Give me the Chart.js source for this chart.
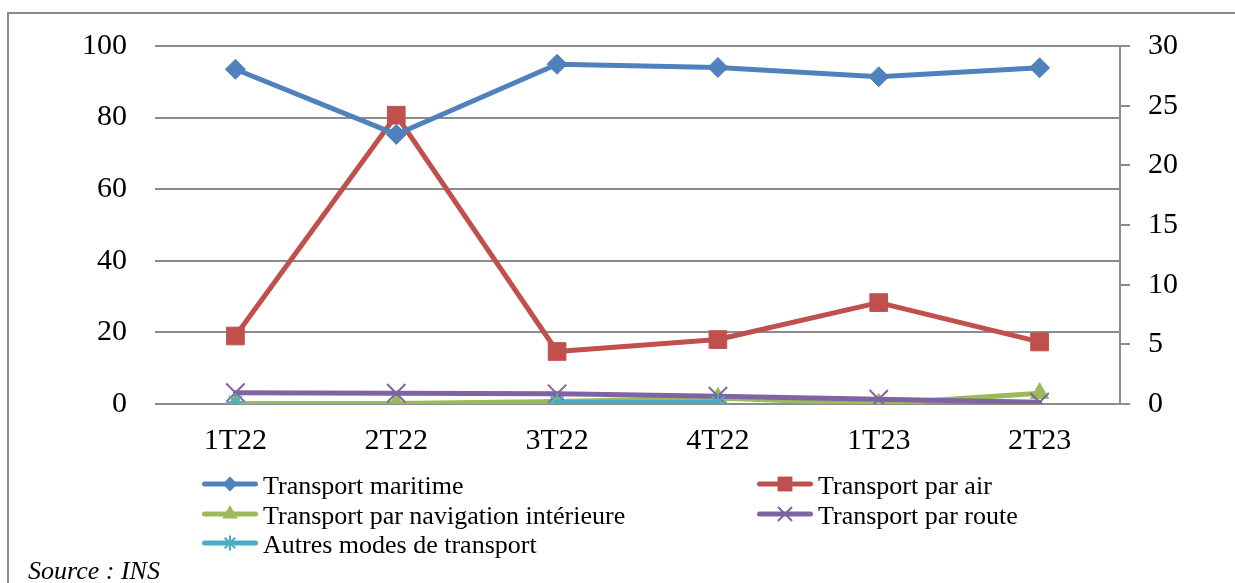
<!DOCTYPE html>
<html>
<head>
<meta charset="utf-8">
<script src="https://cdn.jsdelivr.net/npm/chart.js@4/dist/chart.umd.min.js"></script>
<style>
html,body{margin:0;padding:0;background:#fff;overflow:hidden;}
#wrap{position:relative;width:1235px;height:583px;overflow:hidden;}
#frame{position:absolute;left:7px;top:12px;width:1300px;height:700px;border-left:2px solid #8c8c8c;border-top:2px solid #8c8c8c;}
#c{position:absolute;left:0;top:0;}
</style>
</head>
<body>
<div id="wrap"><div id="frame"></div><canvas id="c" width="1235" height="583"></canvas></div>
<script>
// ---- data ----
const categories = ['1T22', '2T22', '3T22', '4T22', '1T23', '2T23'];
const maritime   = [93.5, 75.3, 94.9, 94.0, 91.4, 93.9];   // left axis
const air        = [5.7, 24.2, 4.4, 5.4, 8.5, 5.2];        // right axis
const navigation = [0.05, 0.05, 0.2, 0.5, 0.0, 0.9];       // right axis
const route      = [0.95, 0.9, 0.85, 0.65, 0.4, 0.15];     // right axis
const autres     = [0.15, null, 0.12, 0.12, null, null];   // right axis
const leftTicks  = { min: 0, max: 100, step: 20 };
const rightTicks = { min: 0, max: 30, step: 5 };
const seriesNames = ['Transport maritime', 'Transport par air', 'Transport par navigation intérieure', 'Transport par route', 'Autres modes de transport'];

const FONT = "'Liberation Serif', 'Times New Roman', serif";
const GRID = '#8c8c8c';

function mk(label, data, color, style, radius, axis, order, pbw, legR) {
  return {
    label, data, yAxisID: axis, order,
    borderColor: color, backgroundColor: color,
    pointBackgroundColor: color, pointBorderColor: color,
    pointStyle: style, pointRadius: radius, pointHoverRadius: radius,
    pointBorderWidth: pbw, borderWidth: 5, tension: 0,
    borderJoinStyle: 'round', borderCapStyle: 'round',
    spanGaps: false, legendRadius: legR
  };
}

function drawMarker(ctx, style, x, y, r) {
  ctx.beginPath();
  const s2 = Math.SQRT1_2;
  switch (style) {
    case 'rectRot':
      ctx.moveTo(x - r, y); ctx.lineTo(x, y - r); ctx.lineTo(x + r, y); ctx.lineTo(x, y + r); ctx.closePath();
      ctx.fill(); break;
    case 'rect':
      ctx.rect(x - r * s2, y - r * s2, 2 * r * s2, 2 * r * s2); ctx.fill(); break;
    case 'triangle':
      ctx.moveTo(x, y - r);
      ctx.lineTo(x + 0.866 * r, y + 0.5 * r);
      ctx.lineTo(x - 0.866 * r, y + 0.5 * r); ctx.closePath(); ctx.fill(); break;
    case 'crossRot':
      ctx.moveTo(x - r * s2, y - r * s2); ctx.lineTo(x + r * s2, y + r * s2);
      ctx.moveTo(x - r * s2, y + r * s2); ctx.lineTo(x + r * s2, y - r * s2);
      ctx.stroke(); break;
    case 'star':
      ctx.moveTo(x, y - r); ctx.lineTo(x, y + r);
      ctx.moveTo(x - r, y); ctx.lineTo(x + r, y);
      ctx.moveTo(x - r * s2, y - r * s2); ctx.lineTo(x + r * s2, y + r * s2);
      ctx.moveTo(x - r * s2, y + r * s2); ctx.lineTo(x + r * s2, y - r * s2);
      ctx.stroke(); break;
  }
}

const legendPlugin = {
  id: 'excelLegend',
  afterDraw(chart) {
    const ctx = chart.ctx;
    const cols = [202, 757];
    const lineY = [484, 514, 543];
    const baseY = [494, 524, 553];
    chart.data.datasets.forEach((ds, i) => {
      const x0 = cols[i % 2], row = Math.floor(i / 2);
      const y = lineY[row];
      ctx.save();
      ctx.strokeStyle = ds.borderColor; ctx.lineWidth = 5; ctx.lineCap = 'round';
      ctx.beginPath(); ctx.moveTo(x0 + 2.5, y); ctx.lineTo(x0 + 53.5, y); ctx.stroke();
      ctx.fillStyle = ds.pointBackgroundColor; ctx.strokeStyle = ds.pointBorderColor;
      ctx.lineWidth = ds.pointBorderWidth; ctx.lineCap = 'butt';
      drawMarker(ctx, ds.pointStyle, x0 + 28, y, ds.legendRadius);
      ctx.fillStyle = '#000';
      ctx.font = '26px ' + FONT;
      ctx.textBaseline = 'alphabetic'; ctx.textAlign = 'left';
      ctx.fillText(ds.label, x0 + 61, baseY[row]);
      ctx.restore();
    });
    ctx.save();
    ctx.fillStyle = '#000';
    ctx.font = 'italic 26px ' + FONT;
    ctx.textBaseline = 'alphabetic'; ctx.textAlign = 'left';
    ctx.fillText('Source : INS', 28, 579);
    ctx.restore();
  }
};

Chart.defaults.font.family = FONT;
Chart.defaults.color = '#000';

new Chart(document.getElementById('c'), {
  type: 'line',
  data: {
    labels: categories,
    datasets: [
      mk(seriesNames[0], maritime,   '#4F81BD', 'rectRot',  10,  'y',  0, 1, 7.5),
      mk(seriesNames[1], air,        '#C0504D', 'rect',     12.5, 'y1', 4, 1, 10.5),
      mk(seriesNames[2], navigation, '#9BBB59', 'triangle', 10.5, 'y1', 3, 1, 9),
      mk(seriesNames[3], route,      '#8064A2', 'crossRot', 13,  'y1', 2, 2, 10),
      mk(seriesNames[4], autres,     '#4BACC6', 'star',     9,   'y1', 1, 2, 7.5)
    ]
  },
  options: {
    responsive: false,
    animation: false,
    devicePixelRatio: 1,
    layout: { padding: { left: 0, right: 0, top: 46, bottom: 124 } },
    plugins: { legend: { display: false }, tooltip: { enabled: false } },
    scales: {
      x: {
        type: 'category', offset: true,
        grid: { display: false, drawTicks: false },
        border: { display: false },
        ticks: { padding: 19, color: '#000', font: { size: 30 } },
        afterFit(s) { s.height = 55; }
      },
      y: {
        position: 'left', min: leftTicks.min, max: leftTicks.max,
        ticks: { stepSize: leftTicks.step, padding: 28, color: '#000', font: { size: 30 } },
        grid: { color: GRID, lineWidth: 2, drawTicks: false },
        border: { display: false },
        afterFit(s) { s.width = 155; }
      },
      y1: {
        position: 'right', min: rightTicks.min, max: rightTicks.max,
        ticks: { stepSize: rightTicks.step, padding: 18, color: '#000', font: { size: 30 } },
        grid: { drawOnChartArea: false, drawTicks: true, tickLength: 10, color: GRID, lineWidth: 2 },
        border: { display: true, color: GRID, width: 2 },
        afterFit(s) { s.width = 115; }
      }
    }
  },
  plugins: [legendPlugin]
});
</script>
</body>
</html>
